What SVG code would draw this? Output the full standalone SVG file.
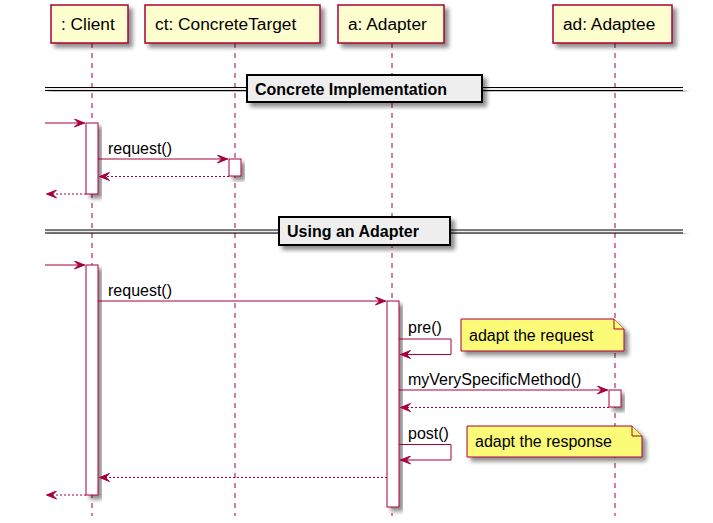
<svg xmlns="http://www.w3.org/2000/svg" width="713" height="523" viewBox="0 0 713 523">
<defs>
<filter id="sh" x="-20%" y="-20%" width="150%" height="150%">
<feGaussianBlur in="SourceAlpha" stdDeviation="2" result="b"/>
<feOffset in="b" dx="4" dy="4" result="o"/>
<feComponentTransfer in="o" result="o2"><feFuncA type="linear" slope="0.45"/></feComponentTransfer>
<feMerge><feMergeNode in="o2"/><feMergeNode in="SourceGraphic"/></feMerge>
</filter>
<marker id="ah" viewBox="0 0 11 9" refX="11" refY="4.5" markerWidth="11" markerHeight="9" markerUnits="userSpaceOnUse" orient="auto">
<path d="M0.5,0.5 L10.5,4.5 L0.5,8.5 L4.5,4.5 Z" fill="#A80036" stroke="#A80036" stroke-width="1"/>
</marker>
</defs>
<style>
.part{fill:#FEFECE;stroke:#A80036;stroke-width:1.5}
.life{stroke:#A80036;stroke-width:1;stroke-dasharray:5,5;fill:none}
.act{fill:#FFFFFF;stroke:#A80036;stroke-width:1}
.msg{stroke:#A80036;stroke-width:1;fill:none;marker-end:url(#ah)}
.ret{stroke:#A80036;stroke-width:1;fill:none;stroke-dasharray:2,2;marker-end:url(#ah)}
.note{fill:#FBFB77;stroke:#A80036;stroke-width:1}
.div{fill:#EEEEEE;stroke:#000000;stroke-width:2}
.dl{stroke:#000000;stroke-width:1}
.t14{font-family:"Liberation Sans",Arial,sans-serif;font-size:17.3px;fill:#000000}
.t13{font-family:"Liberation Sans",Arial,sans-serif;font-size:16px;fill:#000000}
.tb{font-family:"Liberation Sans",Arial,sans-serif;font-size:16px;font-weight:bold;fill:#000000}
</style>
<rect width="713" height="523" fill="#FFFFFF"/>

<g id="lifelines">
<line class="life" x1="92" y1="43" x2="92" y2="516"/>
<line class="life" x1="235" y1="43" x2="235" y2="516"/>
<line class="life" x1="392" y1="43" x2="392" y2="516"/>
<line class="life" x1="615" y1="43" x2="615" y2="516"/>
</g>

<g id="client">
<rect class="part" x="51" y="5" width="77" height="38" filter="url(#sh)"/>
<text class="t14" x="61" y="30">: Client</text>
</g>
<g id="ct">
<rect class="part" x="145" y="5" width="175" height="38" filter="url(#sh)"/>
<text class="t14" x="155" y="30">ct: ConcreteTarget</text>
</g>
<g id="adapter">
<rect class="part" x="338" y="5" width="106" height="38" filter="url(#sh)"/>
<text class="t14" x="348" y="30">a: Adapter</text>
</g>
<g id="adaptee">
<rect class="part" x="553" y="5" width="119" height="38" filter="url(#sh)"/>
<text class="t14" x="563" y="30">ad: Adaptee</text>
</g>

<g id="divider1">
<g filter="url(#sh)">
<rect x="45" y="87.5" width="638" height="3" fill="#EEEEEE"/>
<line class="dl" x1="45" y1="87.5" x2="683" y2="87.5"/>
<line class="dl" x1="45" y1="90.5" x2="683" y2="90.5"/>
</g>
<rect class="div" x="247" y="75" width="235" height="27" filter="url(#sh)"/>
<text class="tb" x="255" y="94.5">Concrete Implementation</text>
</g>

<g id="act-client-1"><rect class="act" x="86" y="123" width="12" height="71" filter="url(#sh)"/></g>
<g id="act-ct-1"><rect class="act" x="229" y="159" width="12" height="17" filter="url(#sh)"/></g>

<g id="divider2">
<g filter="url(#sh)">
<rect x="45" y="230" width="638" height="3" fill="#EEEEEE"/>
<line class="dl" x1="45" y1="230" x2="683" y2="230"/>
<line class="dl" x1="45" y1="233" x2="683" y2="233"/>
</g>
<rect class="div" x="279" y="217" width="171" height="28" filter="url(#sh)"/>
<text class="tb" x="287" y="236.5">Using an Adapter</text>
</g>

<g id="act-client-2"><rect class="act" x="86" y="265" width="12" height="230" filter="url(#sh)"/></g>
<g id="act-adapter"><rect class="act" x="387" y="301" width="12" height="206" filter="url(#sh)"/></g>
<g id="act-adaptee"><rect class="act" x="609" y="390" width="12" height="17" filter="url(#sh)"/></g>

<g id="note1">
<path class="note" d="M461,319 L614,319 L624,329 L624,351 L461,351 Z" filter="url(#sh)"/>
<path d="M614,319 L614,329 L624,329" fill="#FBFB77" stroke="#A80036" stroke-width="1"/>
<text class="t13" x="469" y="341">adapt the request</text>
</g>
<g id="note2">
<path class="note" d="M467,426 L632,426 L642,436 L642,457 L467,457 Z" filter="url(#sh)"/>
<path d="M632,426 L632,436 L642,436" fill="#FBFB77" stroke="#A80036" stroke-width="1"/>
<text class="t13" x="475" y="447">adapt the response</text>
</g>

<g id="connectors">
<line class="msg" x1="45" y1="123" x2="85" y2="123"/>
<line class="msg" x1="98" y1="159" x2="228" y2="159"/>
<text class="t13" x="108" y="154">request()</text>
<line class="ret" x1="229" y1="176.5" x2="99" y2="176.5"/>
<line class="ret" x1="86" y1="194" x2="46" y2="194"/>

<line class="msg" x1="45" y1="265" x2="85" y2="265"/>
<line class="msg" x1="98" y1="301" x2="386" y2="301"/>
<text class="t13" x="108" y="296">request()</text>

<path class="msg" d="M399,339 L451,339 L451,354.5 L400,354.5"/>
<text class="t13" x="408" y="333">pre()</text>

<line class="msg" x1="399" y1="390" x2="608" y2="390"/>
<text class="t13" x="408" y="385">myVerySpecificMethod()</text>
<line class="ret" x1="609" y1="407.5" x2="400" y2="407.5"/>

<path class="msg" d="M399,444.5 L451,444.5 L451,460 L400,460"/>
<text class="t13" x="408" y="439">post()</text>

<line class="ret" x1="387" y1="477.5" x2="99" y2="477.5"/>
<line class="ret" x1="86" y1="495" x2="46" y2="495"/>
</g>
</svg>
